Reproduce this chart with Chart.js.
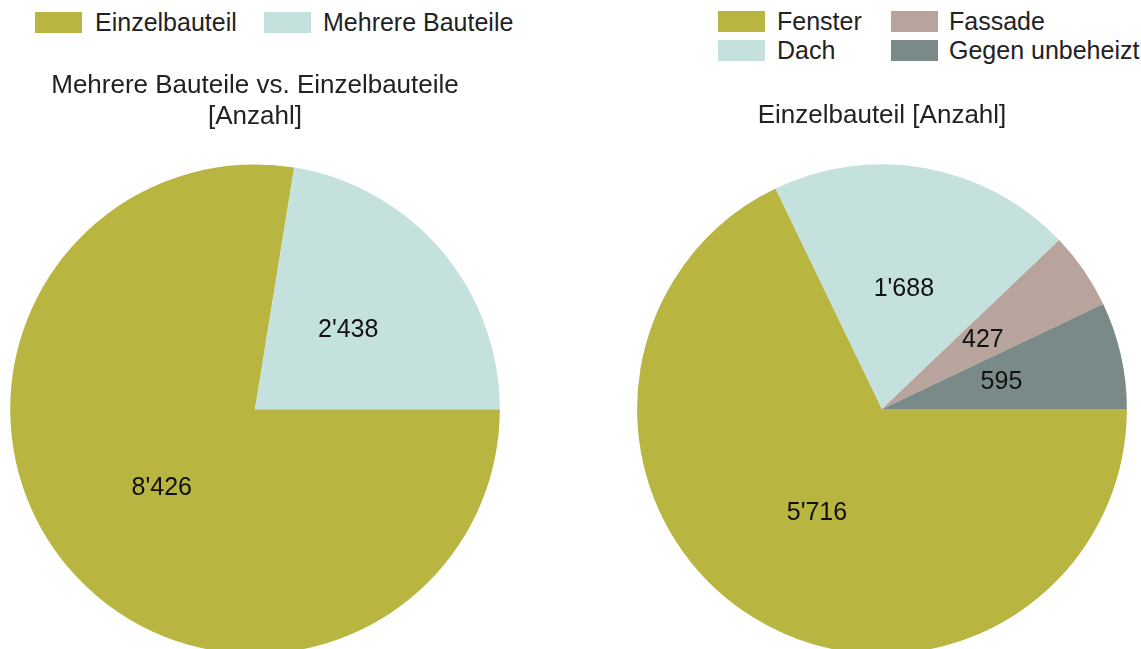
<!DOCTYPE html>
<html>
<head>
<meta charset="utf-8">
<script src="https://cdn.jsdelivr.net/npm/chart.js@4"></script>
<style>
  html, body { margin: 0; padding: 0; background: #fff; }
  body { width: 1141px; height: 649px; overflow: hidden; position: relative; font-family: "Liberation Sans", Arial, sans-serif; }
  .box { position: absolute; width: 1px; height: 1px; }
  .legend { position: absolute; font-size: 25px; color: #222; }
  .item { position: absolute; white-space: nowrap; height: 22px; line-height: 22px; }
  .item span.sw { position: absolute; left: 0; top: 0; width: 47px; height: 21px; }
  .item span.tx { position: absolute; top: -1px; }
</style>
</head>
<body>
<div id="legendLeft" class="legend"></div>
<div id="legendRight" class="legend"></div>
<div class="box" style="left:10px;top:0;width:490px;height:654px;"><canvas id="pieLeft"></canvas></div>
<div class="box" style="left:637px;top:0;width:490px;height:654px;"><canvas id="pieRight"></canvas></div>
<script>
// Linkes Diagramm
const leftLabels = ['Einzelbauteil', 'Mehrere Bauteile'];
const leftValues = [8426, 2438];
const leftColors = ['#b8b540', '#c5e1de'];
const leftTitle = ['Mehrere Bauteile vs. Einzelbauteile', '[Anzahl]'];

// Rechtes Diagramm
const rightLabels = ['Fenster', 'Dach', 'Fassade', 'Gegen unbeheizt'];
const rightValues = [5716, 1688, 427, 595];
const rightColors = ['#b8b540', '#c5e1de', '#b8a49c', '#798a88'];
const rightTitle = 'Einzelbauteil [Anzahl]';

function fmt(v) {
    return String(v).replace(/\B(?=(\d{3})+(?!\d))/g, "'");
}

// Zahlen in die Segmente schreiben
const sliceLabels = {
    id: 'sliceLabels',
    afterDatasetsDraw(chart) {
        const ctx = chart.ctx;
        const meta = chart.getDatasetMeta(0);
        const data = chart.data.datasets[0].data;
        ctx.save();
        ctx.font = '25px "Liberation Sans", Arial, sans-serif';
        ctx.fillStyle = '#111';
        ctx.textAlign = 'center';
        ctx.textBaseline = 'middle';
        meta.data.forEach((arc, i) => {
            const p = arc.tooltipPosition();
            ctx.fillText(fmt(data[i]), p.x, p.y);
        });
        ctx.restore();
    }
};

function makePie(id, labels, values, colors, title, padTop, padBottom) {
    return new Chart(document.getElementById(id), {
        type: 'pie',
        data: {
            labels: labels,
            datasets: [{
                data: values,
                backgroundColor: colors,
                borderWidth: 0
            }]
        },
        options: {
            responsive: true,
            maintainAspectRatio: false,
            animation: false,
            rotation: 90,
            layout: { padding: 0 },
            plugins: {
                legend: { display: false },
                tooltip: { enabled: false },
                title: {
                    display: true,
                    text: title,
                    color: '#222',
                    font: { family: '"Liberation Sans", Arial, sans-serif', size: 26, weight: 'normal', lineHeight: 1.2 },
                    padding: { top: padTop, bottom: padBottom }
                }
            }
        },
        plugins: [sliceLabels]
    });
}

// HTML-Legende
function buildLegend(elId, labels, colors, positions) {
    const el = document.getElementById(elId);
    labels.forEach((lab, i) => {
        const it = document.createElement('div');
        it.className = 'item';
        it.style.left = positions[i][0] + 'px';
        it.style.top = positions[i][1] + 'px';
        const sw = document.createElement('span');
        sw.className = 'sw';
        sw.style.background = colors[i];
        const tx = document.createElement('span');
        tx.className = 'tx';
        tx.style.left = positions[i][2] + 'px';
        tx.textContent = lab;
        it.appendChild(sw);
        it.appendChild(tx);
        el.appendChild(it);
    });
}

buildLegend('legendLeft', leftLabels, leftColors, [[35, 12, 60], [264, 12, 59]]);
buildLegend('legendRight', rightLabels, rightColors, [[718, 11, 59], [718, 40, 59], [891, 11, 58], [891, 40, 58]]);

makePie('pieLeft', leftLabels, leftValues, leftColors, leftTitle, 70, 32);
makePie('pieRight', rightLabels, rightValues, rightColors, rightTitle, 100, 33);
</script>
</body>
</html>
